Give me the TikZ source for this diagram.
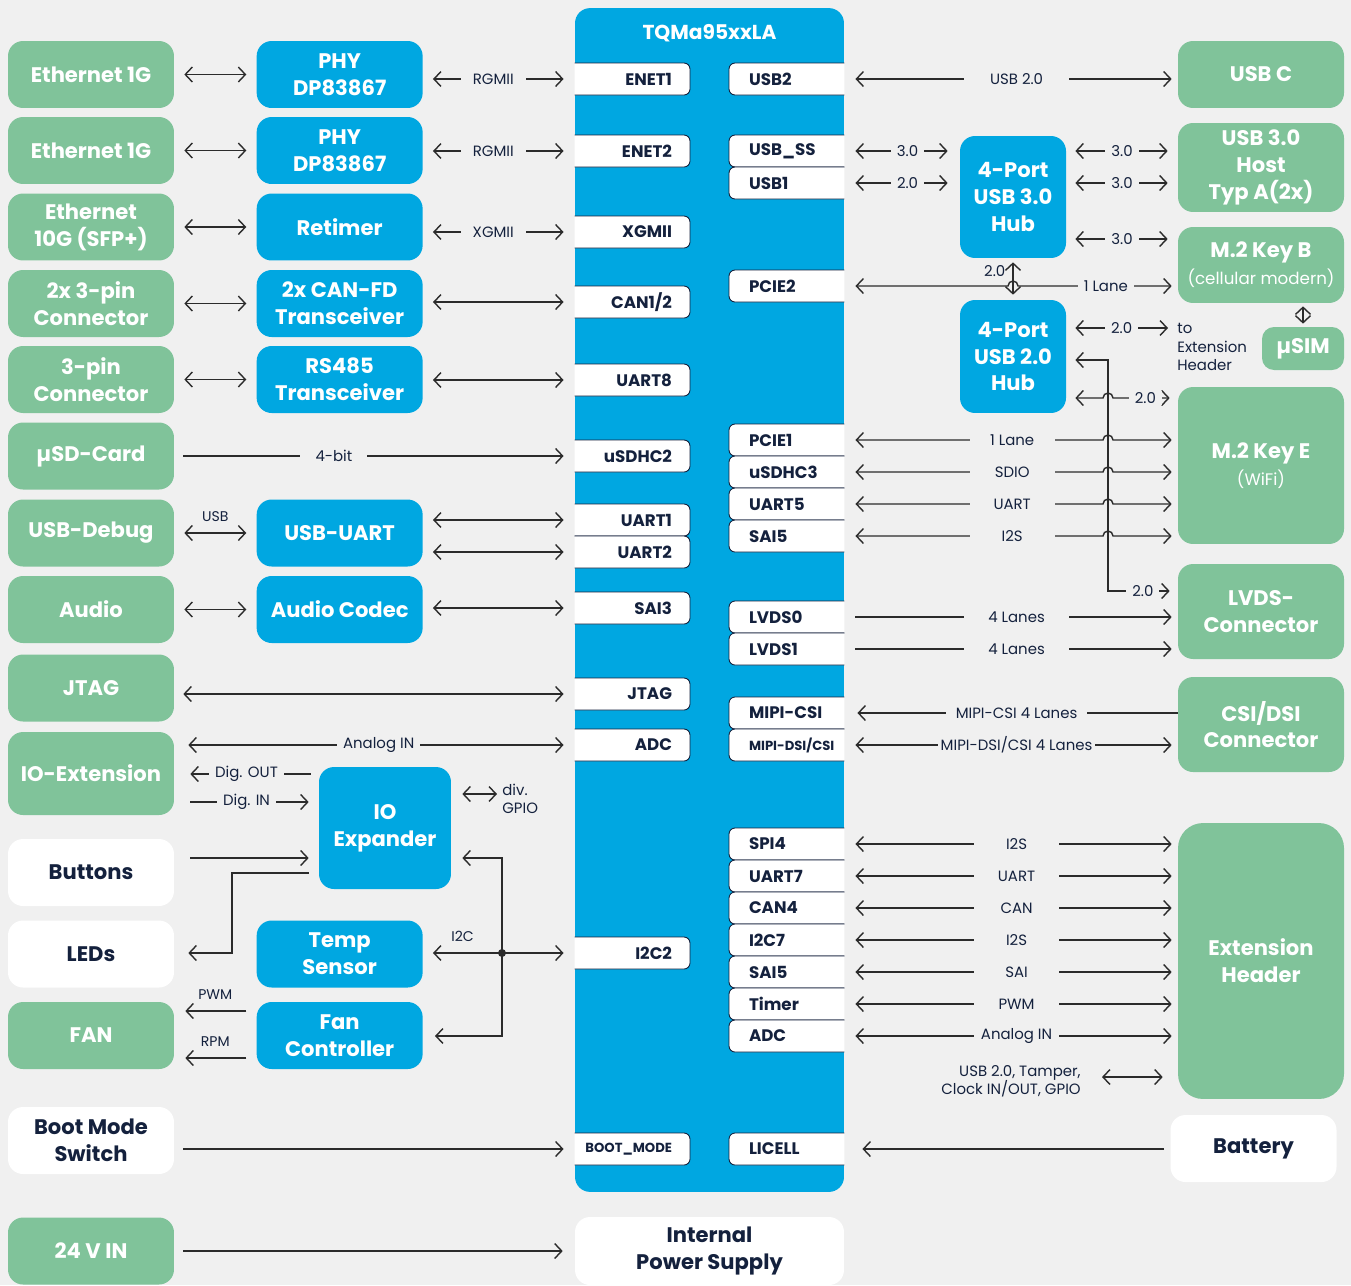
\documentclass[tikz,border=0pt]{standalone}
\usepackage{fontspec}
\setmainfont{Poppins}
\usetikzlibrary{positioning, arrows.meta}

\definecolor{bgc}{HTML}{F0F0F0}
\definecolor{grn}{HTML}{80C39A}
\definecolor{blu}{HTML}{00A7E1}
\definecolor{navy}{HTML}{14213D}
\definecolor{lin}{HTML}{2B2B2B}

\tikzset{
  box/.style={rounded corners=0.3cm, minimum width=3.32cm, minimum height=1.34cm,
    inner sep=0pt, align=center, font=\fontsize{12}{15.3}\selectfont\bfseries},
  gbox/.style={box, fill=grn, text=white},
  wbox/.style={box, fill=white, text=navy},
  bbox/.style={box, fill=blu, text=white},
  pin/.style={draw=navy, line width=0.5pt, fill=white, text=navy, rounded corners=0.12cm,
    minimum width=2.52cm, minimum height=0.64cm, inner ysep=0pt,
    font=\fontsize{9.5}{10.5}\selectfont\bfseries},
  pinl/.style={pin, text width=1.8cm, align=right, inner xsep=0.36cm},
  pinr/.style={pin, text width=1.72cm, align=left, inner xsep=0.4cm},
  con/.style={draw=lin, line width=0.8pt},
  ar/.style={con, -{Straight Barb[length=4pt,width=8.5pt]}},
  bi/.style={con, {Straight Barb[length=4pt,width=8.5pt]}-{Straight Barb[length=4pt,width=8.5pt]}},
  lbl/.style={fill=bgc, text=navy, inner xsep=0.12cm, inner ysep=1pt, font=\fontsize{8.5}{10}\selectfont},
  lblw/.style={lbl, minimum width=1.7cm},
  txt/.style={text=navy, inner sep=0pt, font=\fontsize{8.5}{10.5}\selectfont},
  sm/.style={txt, font=\fontsize{8}{9.5}\selectfont},
  gapa/.style={shorten <=#1}, gapa/.default=0.2cm,
  gapb/.style={shorten >=#1}, gapb/.default=0.2cm,
}

\begin{document}
\begin{tikzpicture}[x=0.02cm, y=-0.02cm]
\fill[bgc] (0,0) rectangle (1351,1285);
\useasboundingbox (0,0) rectangle (1351,1285);

% module
\node[fill=blu, rounded corners=0.3cm, minimum width=5.38cm, minimum height=23.68cm] (som) at (709.5,600) {};
\node[text=white, font=\fontsize{11.5}{13}\selectfont\bfseries] (somt) at (709.5,33) {TQMa95xxLA};
\node[wbox, minimum width=5.38cm, minimum height=1.36cm] (ips) at (709.5,1251) {Internal\\Power Supply};

\begin{scope}
\clip (som.south west) rectangle (som.north east);
% left pins
\node[pinl] (enet1) at (627,79) {ENET1};
\node[pinl] (enet2) at (627,151) {ENET2};
\node[pinl] (xgmii) at (627,232) {XGMII};
\node[pinl] (can12) at (627,302) {CAN1/2};
\node[pinl] (uart8) at (627,380) {UART8};
\node[pinl] (usdhc2) at (627,456) {uSDHC2};
\node[pinl] (uart1) at (627,520) {UART1};
\node[pinl] (uart2) at (627,552) {UART2};
\node[pinl] (sai3) at (627,608) {SAI3};
\node[pinl] (jtagp) at (627,694) {JTAG};
\node[pinl] (adcl) at (627,745) {ADC};
\node[pinl] (i2c2) at (627,953) {I2C2};
\node[pinl, font=\fontsize{7.5}{9}\selectfont\bfseries] (bootp) at (627,1149) {BOOT\_MODE};
% right pins
\node[pinr] (usb2) at (792,79) {USB2};
\node[pinr] (usbss) at (792,151) {USB\_SS};
\node[pinr] (usb1) at (792,183) {USB1};
\node[pinr] (pcie2) at (792,286) {PCIE2};
\node[pinr] (pcie1) at (792,440) {PCIE1};
\node[pinr] (usdhc3) at (792,472) {uSDHC3};
\node[pinr] (uart5) at (792,504) {UART5};
\node[pinr] (sai5a) at (792,536) {SAI5};
\node[pinr] (lvds0) at (792,617) {LVDS0};
\node[pinr] (lvds1) at (792,649) {LVDS1};
\node[pinr] (mipicsi) at (792,713) {MIPI-CSI};
\node[pinr, font=\fontsize{7.5}{9}\selectfont\bfseries] (mipidsi) at (792,745) {MIPI-DSI/CSI};
\node[pinr] (spi4) at (792,844) {SPI4};
\node[pinr] (uart7) at (792,876) {UART7};
\node[pinr] (can4) at (792,908) {CAN4};
\node[pinr] (i2c7) at (792,940) {I2C7};
\node[pinr] (sai5b) at (792,972) {SAI5};
\node[pinr] (timer) at (792,1004) {Timer};
\node[pinr] (adcr) at (792,1036) {ADC};
\node[pinr] (licell) at (792,1149) {LICELL};
\end{scope}

% left column
\node[gbox] (eth1) at (91,74.5) {Ethernet 1G};
\node[gbox] (eth2) at (91,150.5) {Ethernet 1G};
\node[gbox] (eth10) at (91,227) {Ethernet\\10G (SFP+)};
\node[gbox] (con2) at (91,303.5) {2x 3-pin\\Connector};
\node[gbox] (con1) at (91,379.5) {3-pin\\Connector};
\node[gbox] (sd) at (91,456) {µSD-Card};
\node[gbox] (usbd) at (91,533) {USB-Debug};
\node[gbox] (aud) at (91,609.5) {Audio};
\node[gbox] (jtag) at (91,688) {JTAG};
\node[gbox, minimum height=1.66cm] (ioext) at (91,773.5) {IO-Extension};
\node[wbox] (btn) at (91,872.5) {Buttons};
\node[wbox] (leds) at (91,954) {LEDs};
\node[gbox] (fan) at (91,1035.5) {FAN};
\node[wbox] (boot) at (91,1140.5) {Boot Mode\\Switch};
\node[gbox] (vin) at (91,1251) {24 V IN};

% middle column
\node[bbox, right=1.64cm of eth1] (phy1) {PHY\\DP83867};
\node[bbox, right=1.64cm of eth2] (phy2) {PHY\\DP83867};
\node[bbox, right=1.64cm of eth10] (retim) {Retimer};
\node[bbox, right=1.64cm of con2] (canfd) {2x CAN-FD\\Transceiver};
\node[bbox, right=1.64cm of con1] (rs485) {RS485\\Transceiver};
\node[bbox, right=1.64cm of usbd] (usbuart) {USB-UART};
\node[bbox, right=1.64cm of aud] (codec) {Audio Codec};
\node[bbox, minimum width=2.64cm, minimum height=2.44cm] (ioexp) at (385,828) {IO\\Expander};
\node[bbox, right=1.64cm of leds] (temp) {Temp\\Sensor};
\node[bbox, right=1.64cm of fan] (fanc) {Fan\\Controller};
\node[txt, anchor=west, align=left] (gpio) at (502,799) {div.\\GPIO};

% right column
\node[gbox] (usbc) at (1261,74.5) {USB C};
\node[gbox, minimum height=1.78cm] (usb3) at (1261,167.5) {USB 3.0\\Host\\Typ A(2x)};
\node[gbox, minimum height=1.52cm] (keyb) at (1261,265) {M.2 Key B\\{\fontsize{9.5}{11}\selectfont\mdseries (cellular modern)}};
\node[gbox, minimum width=1.64cm, minimum height=0.86cm, rounded corners=0.24cm] (usim) at (1303,348.5) {µSIM};
\node[gbox, minimum height=3.14cm] (keye) at (1261,465.5) {M.2 Key E\\{\fontsize{9.5}{11}\selectfont\mdseries (WiFi)}};
\node[gbox, minimum height=1.9cm] (lvds) at (1261,611.5) {LVDS-\\Connector};
\node[gbox, minimum height=1.9cm] (csi) at (1261,724.5) {CSI/DSI\\Connector};
\node[gbox, minimum height=5.52cm, rounded corners=0.5cm] (ext) at (1261,961) {Extension\\Header};
\node[wbox] (batt) at (1253.5,1148.5) {Battery};
\node[bbox, minimum width=2.12cm, minimum height=2.44cm] (hub3) at (1013,197) {4-Port\\USB 3.0\\Hub};
\node[bbox, minimum width=2.12cm, minimum height=2.26cm] (hub2) at (1013,356.5) {4-Port\\USB 2.0\\Hub};
\node[txt, anchor=west, align=left] (toext) at (1177,347) {to\\Extension\\Header};
\node[txt, anchor=east, align=right] (tamper) at (1081,1081) {USB 2.0, Tamper,\\Clock IN/OUT, GPIO};

% left connectors
\draw[bi, gapa, gapb] (eth1) -- (phy1);
\draw[bi, gapa, gapb] (eth2) -- (phy2);
\draw[bi, gapa, gapb] (eth10) -- (retim);
\draw[bi, gapa, gapb] (con2) -- (canfd);
\draw[bi, gapa, gapb] (con1) -- (rs485);
\draw[bi, gapa, gapb] (usbd) -- node[sm, above=6pt]{USB} (usbuart);
\draw[bi, gapa, gapb] (aud) -- (codec);
\draw[bi, gapa] (phy1.east |- enet1) -- node[lbl, minimum width=1.3cm]{RGMII} (enet1.west);
\draw[bi, gapa] (phy2.east |- enet2) -- node[lbl, minimum width=1.3cm]{RGMII} (enet2.west);
\draw[bi, gapa] (retim.east |- xgmii) -- node[lbl, minimum width=1.3cm]{XGMII} (xgmii.west);
\draw[bi, gapa] (canfd.east |- can12) -- (can12.west);
\draw[bi, gapa] (rs485.east |- uart8) -- (uart8.west);
\draw[ar, gapa=0.18cm] (sd.east |- usdhc2) -- node[lbl, pos=0.41, minimum width=1.34cm]{4-bit} (usdhc2.west);
\draw[bi, gapa] (usbuart.east |- uart1) -- (uart1.west);
\draw[bi, gapa] (usbuart.east |- uart2) -- (uart2.west);
\draw[bi, gapa] (codec.east |- sai3) -- (sai3.west);
\draw[bi, gapa=0.18cm] (jtag.east |- jtagp) -- (jtagp.west);
\draw[bi, gapa=0.28cm] (ioext.east |- adcl) -- node[lbl, pos=0.525]{Analog IN} (adcl.west);
\draw[ar, gapa=0.16cm, gapb=0.32cm] (ioexp.west |- 0,774) -- node[lbl]{Dig. OUT} (ioext.east |- 0,774);
\draw[ar, gapa=0.32cm, gapb=0.2cm] (ioext.east |- 0,802) -- node[lbl]{Dig. IN} (ioexp.west |- 0,802);
\draw[bi, gapa=0.22cm, gapb=0.1cm] (ioexp.east |- 0,794) -- (gpio.west |- 0,794);
\draw[ar, gapa=0.32cm, gapb=0.2cm] (btn.east |- 0,858) -- (ioexp.west |- 0,858);
\draw[ar, gapa=0.2cm, gapb=0.28cm] (ioexp.west |- 0,873) -| (232,953) -- (leds.east |- 0,953);

% I2C bus
\coordinate (bus) at (502,953);
\draw[ar] (bus) -- (i2c2.west |- bus);
\draw[ar, gapb=0.2cm] (bus) -- node[sm, above=6pt]{I2C} (temp.east |- bus);
\draw[ar, gapb=0.22cm] (bus) |- (ioexp.east |- 0,858);
\draw[ar, gapb=0.24cm] (bus) |- (fanc.east |- 0,1036);
\fill[lin] (bus) circle (0.08cm);
\draw[ar, gapa=0.2cm, gapb=0.22cm] (fanc.west |- 0,1011) -- node[sm, above=6pt]{PWM} (fan.east |- 0,1011);
\draw[ar, gapa=0.2cm, gapb=0.22cm] (fanc.west |- 0,1058) -- node[sm, above=6pt]{RPM} (fan.east |- 0,1058);
\draw[ar, gapa=0.18cm] (boot.east |- bootp) -- (bootp.west);
\draw[ar, gapa=0.18cm, gapb=0.24cm] (vin) -- (ips);

% right connectors
\draw[bi, gapb=0.12cm] (usb2.east) -- node[lbl, minimum width=2.1cm]{USB 2.0} (usbc.west |- usb2);
\draw[bi, gapb=0.24cm] (usbss.east) -- node[lbl]{3.0} (hub3.west |- usbss);
\draw[bi, gapb=0.24cm] (usb1.east) -- node[lbl]{2.0} (hub3.west |- usb1);
\draw[bi, gapa=0.18cm, gapb=0.2cm] (hub3.east |- usbss) -- node[lbl]{3.0} (usb3.west |- usbss);
\draw[bi, gapa=0.18cm, gapb=0.2cm] (hub3.east |- usb1) -- node[lbl]{3.0} (usb3.west |- usb1);
\draw[bi, gapa=0.18cm, gapb=0.2cm] (hub3.east |- 0,239) -- node[lbl]{3.0} (keyb.west |- 0,239);
\draw[bi, gapb=0.12cm] (pcie2.east) -- (1008,286) arc[start angle=180, end angle=0, radius=0.1cm] -- node[lbl, pos=0.55]{1 Lane} (keyb.west |- pcie2);
\draw[bi, gapa=0.08cm, gapb=0.1cm] (hub3.south) -- node[txt, left=4pt, pos=0.3]{2.0} (hub2.north);
\draw[bi, gapa=0.06cm, gapb=0.06cm] (keyb.south -| usim) -- (usim.north);
\draw[bi, gapa=0.18cm, gapb=0.18cm] (hub2.east |- 0,328) -- node[lbl]{2.0} (toext.west |- 0,328);
\draw[bi, gapa=0.18cm, gapb=0.16cm] (hub2.east |- 0,360) -| (1108,591) -- node[lbl]{2.0} (lvds.west |- 0,591);
\draw[bi, gapa=0.18cm, gapb=0.16cm] (hub2.east |- 0,398) -- (1103,398) arc[start angle=180, end angle=0, radius=0.1cm] -- node[lbl]{2.0} (keye.west |- 0,398);
\draw[bi, gapb=0.12cm] (pcie1.east) -- node[lblw, pos=0.633]{1 Lane} (1103,440) arc[start angle=180, end angle=0, radius=0.1cm] -- (keye.west |- pcie1);
\draw[bi, gapb=0.12cm] (usdhc3.east) -- node[lblw, pos=0.633]{SDIO} (1103,472) arc[start angle=180, end angle=0, radius=0.1cm] -- (keye.west |- usdhc3);
\draw[bi, gapb=0.12cm] (uart5.east) -- node[lblw, pos=0.633]{UART} (1103,504) arc[start angle=180, end angle=0, radius=0.1cm] -- (keye.west |- uart5);
\draw[bi, gapb=0.12cm] (sai5a.east) -- node[lblw, pos=0.633]{I2S} (1103,536) arc[start angle=180, end angle=0, radius=0.1cm] -- (keye.west |- sai5a);
\draw[ar, gapb=0.12cm] (lvds0.east) -- node[lbl, minimum width=2.1cm]{4 Lanes} (lvds.west |- lvds0);
\draw[ar, gapb=0.12cm] (lvds1.east) -- node[lbl, minimum width=2.1cm]{4 Lanes} (lvds.west |- lvds1);
\draw[ar, gapb=0.04cm] (csi.west |- mipicsi) -- node[lbl, inner xsep=0.2cm]{MIPI-CSI 4 Lanes} (mipicsi.east);
\draw[bi, gapb=0.12cm] (mipidsi.east) -- node[lbl, inner xsep=0.06cm]{MIPI-DSI/CSI 4 Lanes} (csi.west |- mipidsi);
\draw[bi, gapb=0.12cm] (spi4.east) -- node[lblw]{I2S} (ext.west |- spi4);
\draw[bi, gapb=0.12cm] (uart7.east) -- node[lblw]{UART} (ext.west |- uart7);
\draw[bi, gapb=0.12cm] (can4.east) -- node[lblw]{CAN} (ext.west |- can4);
\draw[bi, gapb=0.12cm] (i2c7.east) -- node[lblw]{I2S} (ext.west |- i2c7);
\draw[bi, gapb=0.12cm] (sai5b.east) -- node[lblw]{SAI} (ext.west |- sai5b);
\draw[bi, gapb=0.12cm] (timer.east) -- node[lblw]{PWM} (ext.west |- timer);
\draw[bi, gapb=0.12cm] (adcr.east) -- node[lblw]{Analog IN} (ext.west |- adcr);
\draw[bi, gapa=0.42cm, gapb=0.3cm] (tamper.east |- 0,1077) -- (ext.west |- 0,1077);
\draw[ar, gapa=0.12cm, gapb=0.14cm] (batt.west |- licell) -- (licell.east);
\end{tikzpicture}
\end{document}
